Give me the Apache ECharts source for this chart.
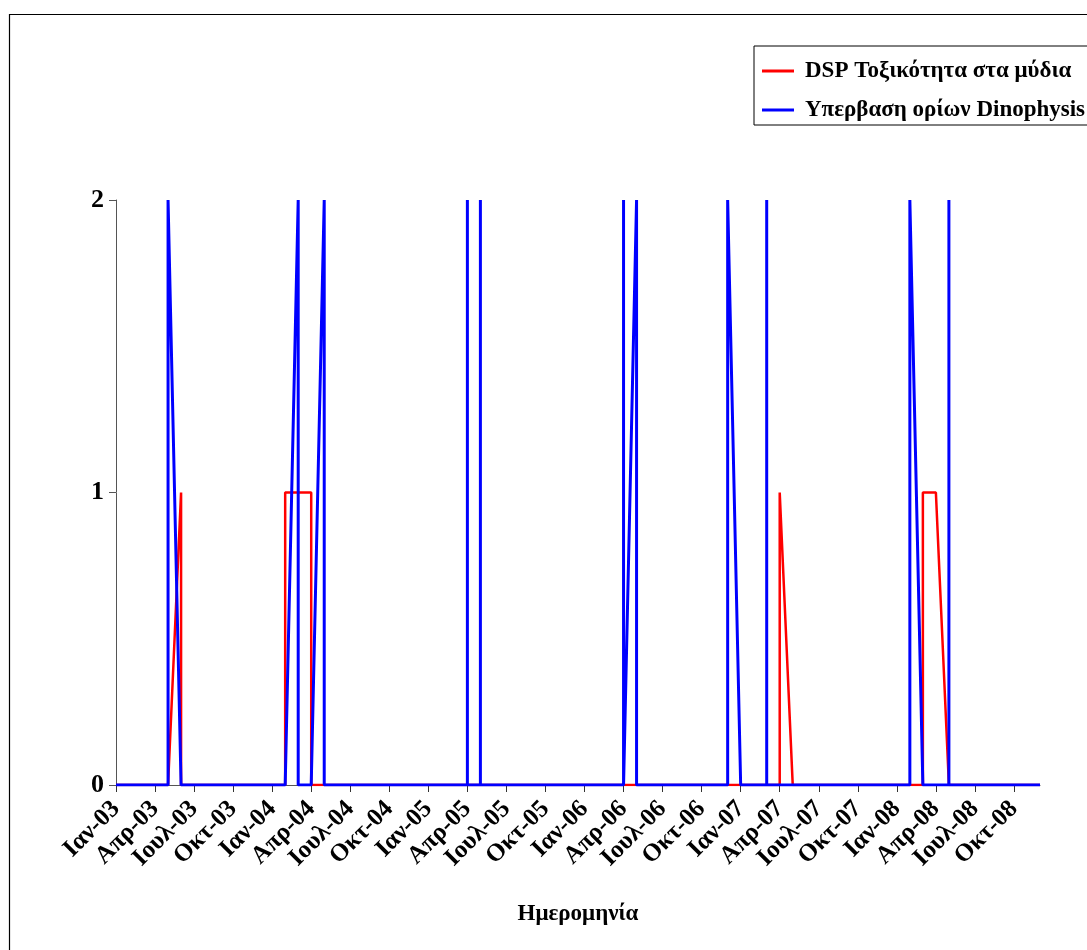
<!DOCTYPE html>
<html>
<head>
<meta charset="utf-8">
<script src="https://cdn.jsdelivr.net/npm/echarts@6/dist/echarts.min.js"></script>
<style>
html,body{margin:0;padding:0;background:#fff;}
#chart{width:1087px;height:950px;}
</style>
</head>
<body>
<div id="chart"></div>
<script>
// Tick labels every 3 months, Jan 2003 .. Oct 2008
const tickLabels = ['Ιαν-03','Απρ-03','Ιουλ-03','Οκτ-03','Ιαν-04','Απρ-04','Ιουλ-04','Οκτ-04',
  'Ιαν-05','Απρ-05','Ιουλ-05','Οκτ-05','Ιαν-06','Απρ-06','Ιουλ-06','Οκτ-06',
  'Ιαν-07','Απρ-07','Ιουλ-07','Οκτ-07','Ιαν-08','Απρ-08','Ιουλ-08','Οκτ-08'];

// Sample dates (year-month), in sampling order
const sampleDates = [
  '2003-01','2003-05','2003-05','2003-06','2003-06',
  '2004-02','2004-02','2004-03','2004-03','2004-04','2004-04','2004-05','2004-05',
  '2005-04','2005-04','2005-04','2005-05','2005-05','2005-05',
  '2006-04','2006-04','2006-04','2006-05','2006-05',
  '2006-12','2006-12','2007-01',
  '2007-03','2007-03','2007-03','2007-04','2007-04','2007-05',
  '2008-02','2008-02','2008-03','2008-03','2008-04','2008-05','2008-05','2008-05',
  '2008-12'
];
// DSP toxicity in mussels
const dspValues = [
  0,0,0,1,0,
  0,1,1,1,1,0,0,0,
  0,0,0,0,0,0,
  0,0,0,0,0,
  0,0,0,
  0,0,0,0,1,0,
  0,0,0,1,1,0,0,0,
  0
];
// Dinophysis limit exceedance
const dinoValues = [
  0,0,2,0,0,
  0,0,2,0,0,0,2,0,
  0,2,0,0,2,0,
  0,2,0,2,0,
  0,2,0,
  0,2,0,0,0,0,
  0,2,0,0,0,0,2,0,
  0
];

const seriesNames = ['DSP Τοξικότητα στα μύδια', 'Υπερβαση ορίων Dinophysis'];

function monthIndex(d) {
  const [y, m] = d.split('-').map(Number);
  return (y - 2003) * 12 + (m - 1);
}
const xs = sampleDates.map(monthIndex);
const dspData = xs.map((x, i) => [x, dspValues[i]]);
const dinoData = xs.map((x, i) => [x, dinoValues[i]]);
const tickVals = tickLabels.map((_, i) => i * 3);

const FONT = '"Liberation Serif", "Times New Roman", serif';

const chart = echarts.init(document.getElementById('chart'), null, {renderer: 'canvas'});
chart.setOption({
  backgroundColor: '#fff',
  animation: false,
  graphic: [{
    type: 'rect',
    shape: {x: 9.5, y: 14.5, width: 1200, height: 1000},
    style: {fill: 'none', stroke: '#000', lineWidth: 1.2},
    silent: true
  }],
  legend: {
    orient: 'vertical',
    left: 754,
    top: 46,
    padding: [13, 8, 3, 8],
    itemGap: 15,
    itemWidth: 32,
    itemHeight: 3,
    icon: 'rect',
    itemStyle: {borderWidth: 0},
    borderColor: '#000',
    borderWidth: 1,
    textStyle: {fontFamily: FONT, fontWeight: 'bold', fontSize: 23, color: '#000', lineHeight: 24, padding: [0,0,0,6]},
    data: seriesNames
  },
  grid: {left: 116, right: 47, top: 200, bottom: 165, containLabel: false},
  xAxis: {
    type: 'value',
    min: 0,
    max: 71,
    interval: 3,
    name: 'Ημερομηνία',
    nameLocation: 'middle',
    nameGap: 118,
    nameTextStyle: {fontFamily: FONT, fontWeight: 'bold', fontSize: 23, color: '#000'},
    axisLine: {show: true, onZero: false, lineStyle: {color: '#555', width: 1}},
    axisTick: {show: true, length: 7, customValues: tickVals, lineStyle: {color: '#333'}},
    axisLabel: {
      customValues: tickVals,
      rotate: 45,
      margin: 20,
      fontFamily: FONT, fontWeight: 'bold', fontSize: 25, color: '#000',
      formatter: v => tickLabels[Math.round(v / 3)] || ''
    },
    splitLine: {show: false}
  },
  yAxis: {
    type: 'value',
    min: 0,
    max: 2,
    interval: 1,
    axisLine: {show: true, lineStyle: {color: '#555', width: 1}},
    axisTick: {show: true, length: 7, lineStyle: {color: '#555'}},
    axisLabel: {margin: 12, fontFamily: FONT, fontWeight: 'bold', fontSize: 26, color: '#000'},
    splitLine: {show: false}
  },
  series: [
    {
      name: seriesNames[0],
      type: 'line',
      data: dspData,
      showSymbol: false,
      symbol: 'none',
      color: '#ff0000',
      lineStyle: {color: '#ff0000', width: 2.5},
      z: 2
    },
    {
      name: seriesNames[1],
      type: 'line',
      data: dinoData,
      showSymbol: false,
      symbol: 'none',
      color: '#0000ff',
      lineStyle: {color: '#0000ff', width: 3},
      z: 3
    }
  ]
});
</script>
</body>
</html>
